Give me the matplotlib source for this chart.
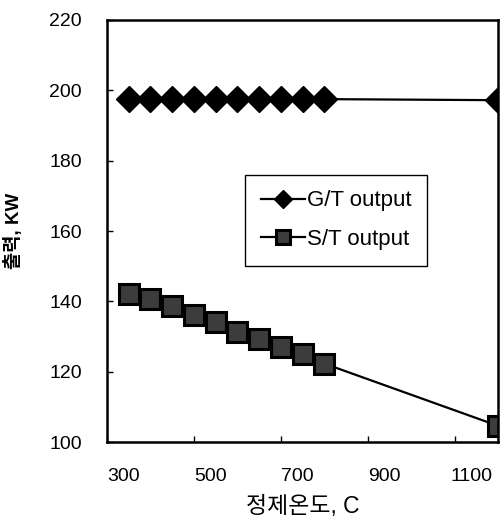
import numpy as np
import matplotlib; matplotlib.use("Agg")
import matplotlib.pyplot as plt
import matplotlib.transforms as mtransforms

temp = [350, 400, 450, 500, 550, 600, 650, 700, 750, 800, 1200]
gt_out = [197.5, 197.5, 197.5, 197.5, 197.5, 197.5, 197.5, 197.5, 197.5, 197.5, 197.2]
st_out = [142.2, 140.8, 138.8, 136.0, 134.0, 131.2, 129.3, 126.9, 124.9, 122.3, 104.6]
xticks = [300, 500, 700, 900, 1100]
yticks = [100, 120, 140, 160, 180, 200, 220]

plt.rcParams['font.family'] = ['Liberation Sans', 'Noto Sans CJK KR', 'DejaVu Sans']

fig = plt.figure(figsize=(5.04, 5.23), dpi=100)
ax = fig.add_axes([107/504, 81/523, 391/504, 422/523])
ax.plot(temp, gt_out, color='black', lw=1.6, marker='D', ms=13, mfc='black', mec='black', label='G/T output')
ax.plot(temp, st_out, color='black', lw=1.6, marker='s', ms=14, mfc='#3c3c3c', mec='black', mew=2.2, label='S/T output')

ax.set_xlim(300, 1200); ax.set_ylim(100, 220)
ax.set_xticks(xticks); ax.set_yticks(yticks)
ax.tick_params(direction='in', length=4, width=1, labelsize=14)
ax.tick_params(axis='x', pad=19)
ax.tick_params(axis='y', pad=18)
for s in ax.spines.values(): s.set_linewidth(1.8)
# the scanned x tick labels sit a little right of their ticks
off = mtransforms.ScaledTranslation(0.17, 0, fig.dpi_scale_trans)
for lab in ax.get_xticklabels(): lab.set_transform(lab.get_transform() + off)

ax.set_xlabel('정제온도, C', fontsize=16.5)
ax.xaxis.set_label_coords(0.5, -0.125)
ax.set_ylabel('출력, KW', fontsize=13.5, fontweight='bold')
ax.yaxis.set_label_coords(-0.215, 0.5)

leg = ax.legend(loc='upper left', bbox_to_anchor=(0.353, 0.633), fontsize=16, markerscale=0.72,
                fancybox=False, edgecolor='black', framealpha=1, handlelength=2.0, handletextpad=0.1,
                borderpad=0.7, labelspacing=0.8, borderaxespad=0)
leg.get_frame().set_linewidth(1.0)

fig.savefig('out.png', dpi=100)
